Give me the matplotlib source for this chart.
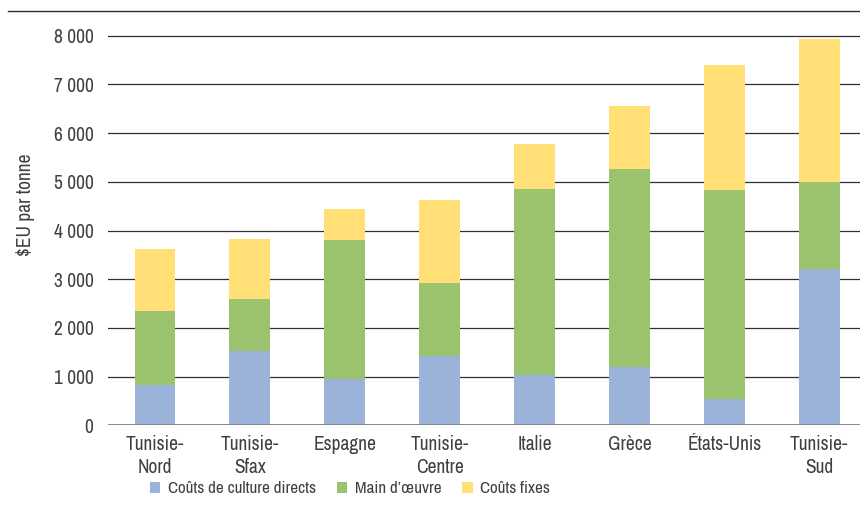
import matplotlib.pyplot as plt
import numpy as np

# data ($EU per tonne, segment heights)
regions = ["Tunisie-\nNord", "Tunisie-\nSfax", "Espagne", "Tunisie-\nCentre",
           "Italie", "Grèce", "États-Unis", "Tunisie-\nSud"]
direct_costs = [830, 1520, 950, 1420, 1035, 1200, 535, 3220]
labour = [1525, 1080, 2860, 1505, 3820, 4065, 4300, 1770]
fixed_costs = [1260, 1235, 640, 1705, 920, 1290, 2555, 2935]
series_names = ["Coûts de culture directs", "Main d\u2019œuvre", "Coûts fixes"]
yticks = [0, 1000, 2000, 3000, 4000, 5000, 6000, 7000, 8000]

colors = ["#9BB3D8", "#9BC26C", "#FFDF76"]
text_col = "#404040"

plt.rcParams["font.family"] = ["Archivo Narrow", "Liberation Sans", "DejaVu Sans"]
plt.rcParams["font.size"] = 14

fig = plt.figure(figsize=(8.6, 5.08), dpi=100)
ax = fig.add_axes([0.125, 0.1628, 0.875, 0.7716])

x = np.arange(len(regions))
width = 0.43
bottom = np.zeros(len(regions))
for vals, name, c in zip([direct_costs, labour, fixed_costs], series_names, colors):
    ax.bar(x, vals, width, bottom=bottom, color=c, label=name, zorder=3, linewidth=0)
    bottom += np.array(vals)

ax.set_xlim(-0.5, 7.43)
ax.set_ylim(0, 8050)
ax.set_yticks(yticks)
ax.set_yticklabels([f"{v:,}".replace(",", " ") for v in yticks], color=text_col)
ax.set_xticks(x)
ax.set_xticklabels(regions, color=text_col, linespacing=1.25)
ax.tick_params(length=0, pad=7)
ax.tick_params(axis="y", pad=10)

for v in yticks[1:]:
    ax.axhline(v, color="#303030", lw=0.9, zorder=1)
ax.axhline(0, color="#808080", lw=2, zorder=4)
for s in ax.spines.values():
    s.set_visible(False)

ax.set_ylabel(r"\$EU par tonne", color=text_col)
ax.yaxis.set_label_coords(-0.097, 0.562)

# rule across the top of the figure
fig.add_artist(plt.Line2D([0.009, 1.0], [1 - 11 / 508, 1 - 11 / 508],
                          color="#303030", lw=1))

leg = fig.legend(loc="center", bbox_to_anchor=(0.407, 0.038), ncol=3, frameon=False,
                 fontsize=12.3, handlelength=0.62, handleheight=0.62, handletextpad=0.45,
                 columnspacing=1.2)
for t in leg.get_texts():
    t.set_color(text_col)

fig.savefig("out.png", dpi=100)
